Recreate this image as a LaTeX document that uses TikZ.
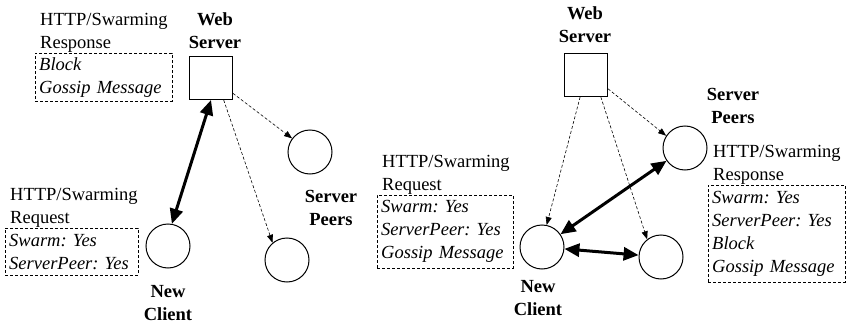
\documentclass[tikz,border=0pt]{standalone}
\usepackage{fontspec}
\setmainfont{Liberation Serif}
\usetikzlibrary{arrows.meta}
\newcommand{\figfont}{\fontsize{18.5pt}{23pt}\selectfont\frenchspacing}
\begin{document}
\begin{tikzpicture}[x=1pt,y=-1pt,font=\figfont]

% definitions
\tikzstyle{server} = [rectangle, draw=black, line width=1pt, minimum size=43pt]
\tikzstyle{peer} = [circle, draw=black, line width=1pt, minimum size=44pt]
\tikzstyle{lbl} = [font=\figfont\bfseries, align=center, inner sep=0pt]
\tikzstyle{hdr} = [align=left, anchor=west, inner sep=0pt]
\tikzstyle{msg} = [rectangle, densely dashed, draw=black, anchor=north west, align=left, font=\figfont\itshape, inner xsep=4pt, inner ysep=2pt]

\tikzstyle{flow} = [-{Triangle[length=8pt,width=6pt]}, densely dashed, line width=0.6pt]
\tikzstyle{xchg} = [{Triangle[length=15pt,width=13pt]}-{Triangle[length=15pt,width=13pt]}, line width=3pt]

\useasboundingbox (0,0) rectangle (847,324);

% the graph (left)
\node (ws1) [server] at (211,78) {};
\node (sp1a) [peer] at (310,152) {};
\node (sp1b) [peer] at (287,260) {};
\node (nc1) [peer] at (168,246) {};

\node (ws1l) [lbl] at (215,31) {Web\\Server};
\node (sp1l) [lbl] at (331,208) {Server\\Peers};
\node (nc1l) [lbl] at (168,303) {New\\Client};

\node (rsp1h) [hdr] at (40,33) {HTTP/Swarming\\Response};
\node (rsp1) [msg, text width=129pt, minimum height=48pt] at (35,53) {Block\\Gossip Message};
\node (req1h) [hdr] at (10,208) {HTTP/Swarming\\Request};
\node (req1) [msg, text width=125pt, minimum height=47pt] at (5,228) {Swarm: Yes\\ServerPeer: Yes};

\draw [xchg] (ws1.south) -- (nc1.80);
\draw [flow] (ws1.-35) -- (sp1a);
\draw [flow] (ws1.-60) -- (sp1b.130);

% the graph (right)
\node (ws2) [server] at (586,75) {};
\node (sp2) [peer] at (685,148) {};
\node (op2) [peer] at (661,257) {};
\node (nc2) [peer] at (542,247) {};

\node (ws2l) [lbl] at (585,25) {Web\\Server};
\node (sp2l) [lbl] at (733,106) {Server\\Peers};
\node (nc2l) [lbl] at (538,298) {New\\Client};

\node (req2h) [hdr] at (382,175) {HTTP/Swarming\\Request};
\node (req2) [msg, text width=128pt, minimum height=73pt] at (377,195) {Swarm: Yes\\ServerPeer: Yes\\Gossip Message};
\node (rsp2h) [hdr] at (713,165) {HTTP/Swarming\\Response};
\node (rsp2) [msg, text width=129pt, minimum height=97pt] at (708,185) {Swarm: Yes\\ServerPeer: Yes\\Block\\Gossip Message};

\draw [flow] (ws2.-105) -- (nc2.78);
\draw [flow] (ws2.-56) -- (op2.128);
\draw [flow] (ws2.-32) -- (sp2.147);
\draw [xchg] (nc2) -- (sp2);
\draw [xchg] (nc2) -- (op2);

\end{tikzpicture}
\end{document}
